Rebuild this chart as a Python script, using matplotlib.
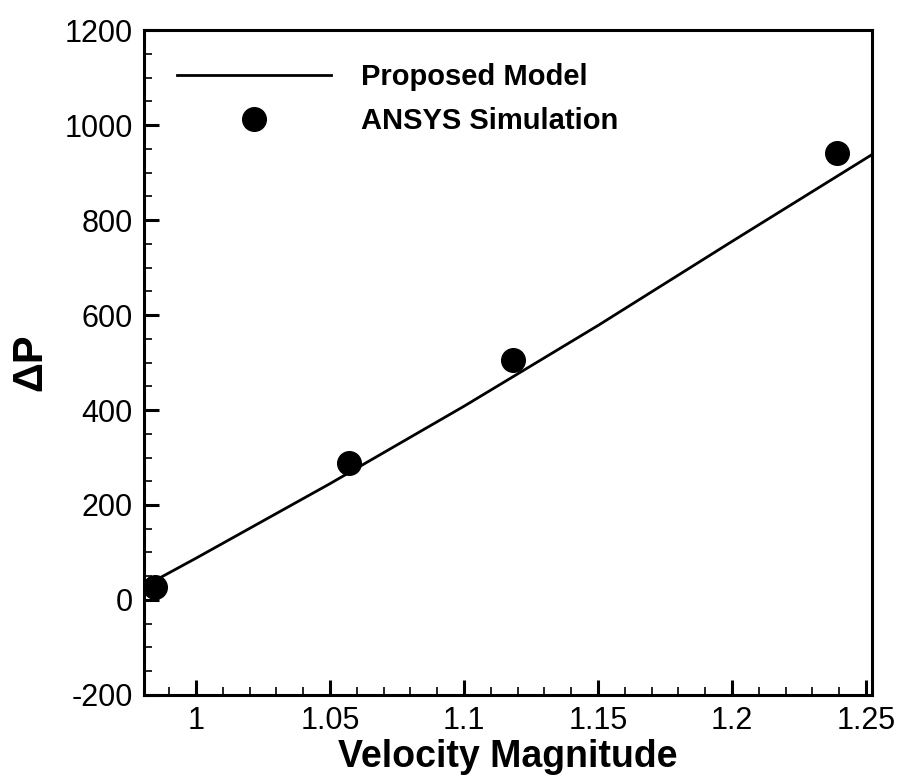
import matplotlib
matplotlib.use('Agg')
import matplotlib.pyplot as plt
from matplotlib.ticker import MultipleLocator

plt.rcParams['font.family'] = ['Liberation Sans', 'DejaVu Sans']
plt.rcParams['axes.unicode_minus'] = False

# 模型曲线
model_v = [0.985, 1.0, 1.05, 1.1, 1.15, 1.2, 1.252]
model_dp = [42, 88, 245, 408, 578, 755, 937]

# ANSYS 仿真点
sim_v = [0.9847, 1.0572, 1.1182, 1.2393]
sim_dp = [28, 288, 505, 942]

fig = plt.figure(figsize=(8.98, 7.78), dpi=100)
ax = fig.add_axes([0.1604, 0.1067, 0.8106, 0.8547])

ax.plot(model_v, model_dp, color='black', lw=2.0, label='Proposed Model')
ax.plot(sim_v, sim_dp, 'o', color='black', ms=17, ls='none', label='ANSYS Simulation')

ax.set_xlim(0.9806, 1.2522)
ax.set_ylim(-200, 1200)
ax.xaxis.set_minor_locator(MultipleLocator(0.01))
ax.yaxis.set_major_locator(MultipleLocator(200))
ax.yaxis.set_minor_locator(MultipleLocator(50))
ax.set_xticks([1, 1.05, 1.1, 1.15, 1.2, 1.25])
ax.set_xticklabels(['1', '1.05', '1.1', '1.15', '1.2', '1.25'])

ax.tick_params(which='both', direction='in', top=False, right=False, labelsize=22)
ax.tick_params(which='major', length=11, width=2.2, pad=8)
ax.tick_params(which='minor', length=6, width=1.2)
for s in ax.spines.values():
    s.set_linewidth(2.2)

ax.set_xlabel('Velocity Magnitude', fontsize=27, fontweight='bold', labelpad=2)
ax.set_ylabel('ΔP', fontsize=30, fontweight='bold', labelpad=10)

leg = ax.legend(loc='upper left', bbox_to_anchor=(0.045, 0.95), frameon=False,
                fontsize=21, handlelength=5.3, handletextpad=1.0, labelspacing=0.55,
                borderpad=0, borderaxespad=0, numpoints=1)
for t in leg.get_texts():
    t.set_fontweight('bold')

fig.savefig('out.png', dpi=100)
